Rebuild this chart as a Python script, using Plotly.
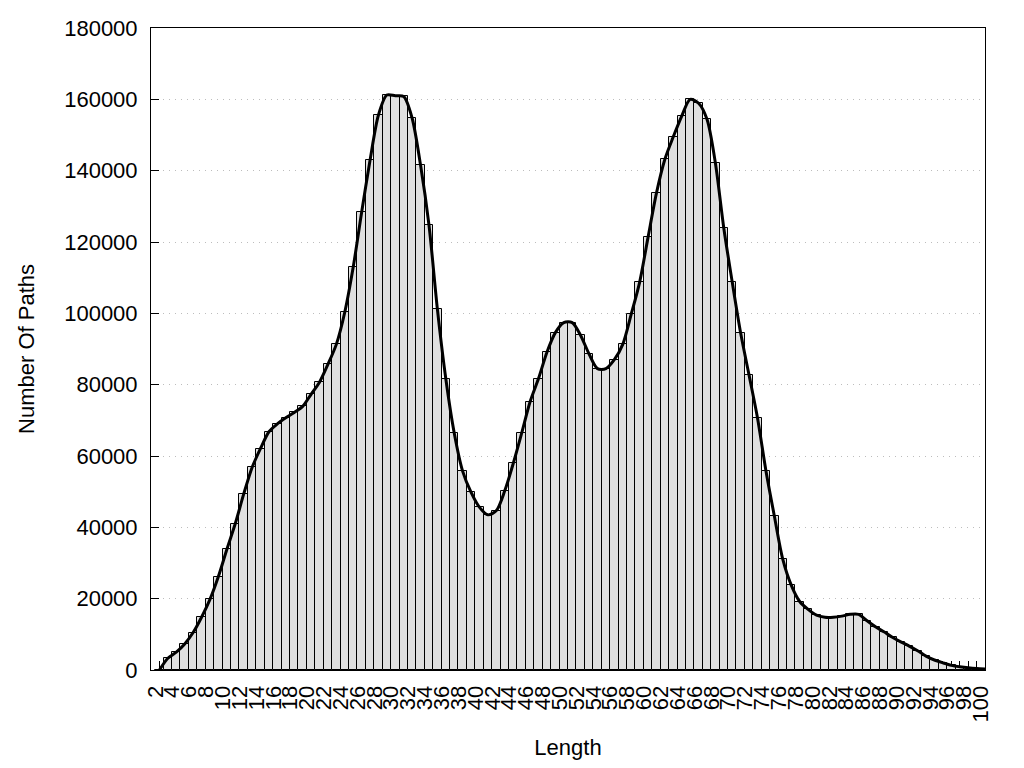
import plotly.graph_objects as go

lengths = list(range(2, 101))
counts = [
    0, 3300, 5000, 7300, 10500, 14800, 19800, 26200, 33800, 41000,        # 2-11
    49300, 56800, 62100, 66800, 69000, 70700, 72200, 73900, 77300, 80700,  # 12-21
    85700, 91300, 100300, 112900, 128300, 142900, 155600, 161200, 161000, 160800,  # 22-31
    154700, 141500, 124700, 101100, 81600, 66400, 55700, 49800, 45600, 43500,  # 32-41
    44700, 50300, 57900, 66400, 75200, 81700, 89100, 94600, 97400, 97400,  # 42-51
    93800, 88600, 84500, 84500, 87000, 91300, 99700, 108700, 121300, 133700,  # 52-61
    143200, 149500, 155300, 160000, 158900, 154400, 142100, 123800, 108700, 94400,  # 62-71
    82600, 70600, 55800, 43100, 31000, 23800, 19200, 17000, 15400, 14800,  # 72-81
    14800, 15100, 15600, 15600, 13800, 12100, 10700, 9200, 7900, 6700,  # 82-91
    5400, 3900, 2800, 2000, 1300, 900, 600, 400, 300,  # 92-100
]
tick_labels = [str(v) if v % 2 == 0 else "" for v in lengths]
y_ticks = list(range(0, 180001, 20000))

FONT = "Liberation Sans, Arial, sans-serif"

fig = go.Figure()
fig.add_trace(go.Bar(
    x=lengths, y=counts, width=1,
    marker=dict(color="#e0e0e0", line=dict(color="black", width=1)),
    showlegend=False, hoverinfo="x+y",
))
fig.add_trace(go.Scatter(
    x=lengths, y=counts, mode="lines",
    line=dict(color="black", width=3, shape="spline", smoothing=0.8),
    showlegend=False,
))

fig.update_layout(
    width=1008, height=752,
    margin=dict(l=143, r=31, t=20, b=90, autoexpand=False),
    paper_bgcolor="white", plot_bgcolor="white",
    bargap=0,
    font=dict(family=FONT, size=22, color="black"),
)
fig.update_xaxes(
    range=[1, 100], tickmode="array", tickvals=lengths, ticktext=tick_labels,
    tickangle=-90, ticks="inside", ticklen=9, tickcolor="black",
    ticklabelshift=-4, ticklabelstandoff=6,
    showline=True, linecolor="black", linewidth=1, mirror=True,
    showgrid=False, zeroline=False, layer="below traces", automargin=False,
    title=dict(text="Length", standoff=20, font=dict(size=22)),
    tickfont=dict(size=22),
)
fig.update_yaxes(
    range=[0, 180000], tickmode="array", tickvals=y_ticks,
    ticktext=[str(v) for v in y_ticks],
    ticks="inside", ticklen=8, tickcolor="black", ticklabelstandoff=8,
    showline=True, linecolor="black", linewidth=1, mirror=True,
    showgrid=True, gridcolor="#bdbdbd", griddash="1px,5px", gridwidth=1,
    zeroline=False, layer="below traces", automargin=False,
    title=dict(text="Number Of Paths", standoff=23, font=dict(size=22)),
    tickfont=dict(size=22),
)

fig.write_html("out.html")
